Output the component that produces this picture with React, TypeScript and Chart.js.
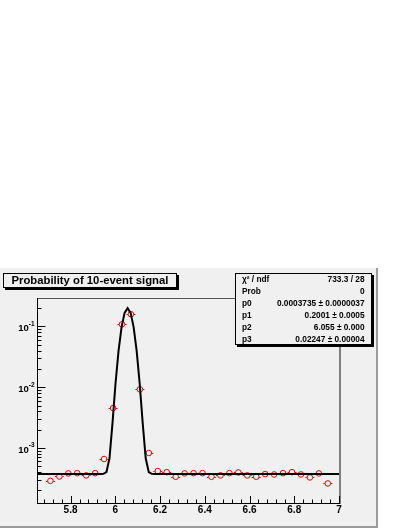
import React, { useEffect, useRef } from 'react';
import { Chart, registerables } from 'chart.js';

Chart.register(...registerables);

// ---------------- data ----------------
const binCenters = [
  5.71, 5.75, 5.79, 5.83, 5.87, 5.91, 5.95, 5.99, 6.03, 6.07, 6.11, 6.15, 6.19, 6.23, 6.27, 6.31,
  6.35, 6.39, 6.43, 6.47, 6.51, 6.55, 6.59, 6.63, 6.67, 6.71, 6.75, 6.79, 6.83, 6.87, 6.91, 6.95,
];
const binValues = [
  2.88e-4, 3.40e-4, 3.82e-4, 3.86e-4, 3.54e-4, 3.86e-4, 6.59e-4, 4.55e-3, 0.1086, 0.159, 9.25e-3, 8.28e-4,
  4.17e-4, 4.0e-4, 3.36e-4, 3.82e-4, 3.86e-4, 3.86e-4, 3.36e-4, 3.54e-4, 3.86e-4, 3.96e-4, 3.54e-4, 3.36e-4,
  3.72e-4, 3.67e-4, 3.86e-4, 4.0e-4, 3.67e-4, 3.28e-4, 3.82e-4, 2.61e-4,
];
const binHalfWidth = 0.02;

// fit: p0 + p1 * exp(-0.5 * ((x - p2) / p3)^2)
const fitParams = [0.0003735, 0.2001, 6.055, 0.02247];
const fitNpx = 100;

const xMin = 5.65;
const xMax = 7.0;
const yMin = 1.244e-4;
const yMax = 0.2944;

const xMajorTicks = [5.8, 6.0, 6.2, 6.4, 6.6, 6.8, 7.0];
const xMajorLabels = ['5.8', '6', '6.2', '6.4', '6.6', '6.8', '7'];
const xMinorStep = 0.04;
const yMajorExponents = [-1, -2, -3];
const yMajorLabels = ['-1', '-2', '-3'];

const titleText = 'Probability of 10-event signal';
const statsLabels = ['χ² / ndf', 'Prob', 'p0', 'p1', 'p2', 'p3'];
const statsValues = [
  '733.3 / 28',
  '0',
  '0.0003735 ± 0.0000037',
  '0.2001 ± 0.0005',
  '6.055 ± 0.000',
  '0.02247 ± 0.00004',
];

// ---------------- styling ----------------
const FONT = '"Liberation Sans", Arial, Helvetica, sans-serif';
const PANEL = '#f0f0f0';

function fitFn(x: number): number {
  const [p0, p1, p2, p3] = fitParams;
  const t = (x - p2) / p3;
  return p0 + p1 * Math.exp(-0.5 * t * t);
}

function drawBox(ctx: CanvasRenderingContext2D, x: number, y: number, w: number, h: number) {
  ctx.fillStyle = '#000';
  ctx.fillRect(x + 2, y + 2, w, h);
  ctx.fillStyle = PANEL;
  ctx.fillRect(x, y, w, h);
  ctx.strokeStyle = '#000';
  ctx.lineWidth = 1;
  ctx.strokeRect(x + 0.5, y + 0.5, w - 1, h - 1);
}

const rootPlugin = {
  id: 'rootStyle',
  beforeDraw(chart: any) {
    const ctx: CanvasRenderingContext2D = chart.ctx;
    ctx.save();
    ctx.fillStyle = '#ffffff';
    ctx.fillRect(0, 0, chart.width, chart.height);
    // pad
    ctx.fillStyle = PANEL;
    ctx.fillRect(0, 268, 378, 260);
    ctx.fillStyle = '#9a9a9a';
    ctx.fillRect(376, 268, 2, 260);
    ctx.fillRect(0, 526, 378, 2);
    ctx.restore();
  },
  beforeDatasetsDraw(chart: any) {
    const ctx: CanvasRenderingContext2D = chart.ctx;
    const xs = chart.scales.x;
    const ys = chart.scales.y;
    const r = 3;
    ctx.save();
    ctx.strokeStyle = '#ff0000';
    ctx.lineWidth = 1;
    binCenters.forEach((c, i) => {
      const px = xs.getPixelForValue(c);
      const py = Math.round(ys.getPixelForValue(binValues[i])) + 0.5;
      const l = xs.getPixelForValue(c - binHalfWidth);
      const rr = xs.getPixelForValue(c + binHalfWidth);
      ctx.beginPath();
      ctx.moveTo(l, py);
      ctx.lineTo(px - r, py);
      ctx.moveTo(px + r, py);
      ctx.lineTo(rr, py);
      ctx.stroke();
    });
    ctx.restore();
  },
  afterDraw(chart: any) {
    const ctx: CanvasRenderingContext2D = chart.ctx;
    const xs = chart.scales.x;
    const ys = chart.scales.y;
    const { left, right, top, bottom } = chart.chartArea;
    ctx.save();

    // frame border
    ctx.strokeStyle = '#555';
    ctx.lineWidth = 1;
    ctx.beginPath();
    ctx.moveTo(left, top + 0.5);
    ctx.lineTo(right + 2, top + 0.5);
    ctx.stroke();
    ctx.fillStyle = '#808080';
    ctx.fillRect(right, top, 2, bottom - top + 1);

    // axes lines
    ctx.strokeStyle = '#000';
    ctx.beginPath();
    ctx.moveTo(left + 0.5, top);
    ctx.lineTo(left + 0.5, bottom + 1);
    ctx.moveTo(left, bottom + 0.5);
    ctx.lineTo(right + 1, bottom + 0.5);
    ctx.stroke();

    // x ticks
    ctx.beginPath();
    for (let k = 0; ; k++) {
      const v = 5.68 + k * xMinorStep;
      if (v > xMax + 1e-9) break;
      const px = Math.round(xs.getPixelForValue(v)) + 0.5;
      ctx.moveTo(px, bottom);
      ctx.lineTo(px, bottom - 3.5);
    }
    xMajorTicks.forEach((v) => {
      const px = Math.round(xs.getPixelForValue(v)) + 0.5;
      ctx.moveTo(px, bottom);
      ctx.lineTo(px, bottom - 7);
    });
    // y ticks
    for (let e = -4; e <= 0; e++) {
      for (let m = 1; m <= 9; m++) {
        const v = m * Math.pow(10, e);
        if (v < yMin || v > yMax) continue;
        const py = Math.round(ys.getPixelForValue(v)) + 0.5;
        ctx.moveTo(left, py);
        ctx.lineTo(left + (m === 1 ? 8.5 : 4.5), py);
      }
    }
    ctx.stroke();

    // x labels
    ctx.fillStyle = '#000';
    ctx.font = `bold 10px ${FONT}`;
    ctx.textAlign = 'center';
    ctx.textBaseline = 'middle';
    xMajorTicks.forEach((v, i) => {
      ctx.fillText(xMajorLabels[i], xs.getPixelForValue(v), 510);
    });

    // y labels (10^exp)
    yMajorExponents.forEach((e, i) => {
      const py = ys.getPixelForValue(Math.pow(10, e));
      ctx.font = `bold 6.5px ${FONT}`;
      ctx.textAlign = 'right';
      ctx.textBaseline = 'middle';
      const sup = yMajorLabels[i];
      const supW = ctx.measureText(sup).width;
      ctx.fillText(sup, 34.5, py - 2.5);
      ctx.font = `bold 9.5px ${FONT}`;
      ctx.fillText('10', 34.5 - supW, py + 2);
    });

    // title box
    drawBox(ctx, 3, 273, 174, 15);
    ctx.fillStyle = '#000';
    ctx.font = `bold 11.3px ${FONT}`;
    ctx.textAlign = 'left';
    ctx.textBaseline = 'middle';
    ctx.fillText(titleText, 11.5, 281);

    // stats box
    drawBox(ctx, 235, 273, 137, 72);
    ctx.fillStyle = '#000';
    ctx.font = `bold 8.3px ${FONT}`;
    ctx.textBaseline = 'middle';
    statsLabels.forEach((lab, i) => {
      const y = 279.5 + i * 12;
      ctx.textAlign = 'left';
      ctx.fillText(lab, 242, y);
      ctx.textAlign = 'right';
      ctx.fillText(statsValues[i], 364.5, y);
    });

    ctx.restore();
  },
};

export default function App() {
  const ref = useRef<HTMLCanvasElement>(null);
  useEffect(() => {
    const canvas = ref.current;
    if (!canvas) return;
    const fitPoints: { x: number; y: number }[] = [];
    for (let i = 0; i <= fitNpx; i++) {
      const x = xMin + ((xMax - xMin) * i) / fitNpx;
      fitPoints.push({ x, y: fitFn(x) });
    }
    const chart = new Chart(canvas, {
      type: 'scatter',
      data: {
        datasets: [
          {
            type: 'line',
            data: fitPoints,
            borderColor: '#000',
            borderWidth: 2,
            pointRadius: 0,
            fill: false,
            tension: 0,
          } as any,
          {
            type: 'scatter',
            data: binCenters.map((x, i) => ({ x, y: binValues[i] })),
            pointStyle: 'circle',
            pointRadius: 2.8,
            borderColor: '#ff0000',
            backgroundColor: 'rgba(0,0,0,0)',
            borderWidth: 1,
          } as any,
        ],
      },
      options: {
        responsive: false,
        animation: false,
        devicePixelRatio: 1,
        events: [],
        layout: { padding: { left: 37, top: 298, right: 409 - 339, bottom: 529 - 503 } },
        plugins: { legend: { display: false }, tooltip: { enabled: false }, title: { display: false } },
        scales: {
          x: { type: 'linear', min: xMin, max: xMax, display: false },
          y: { type: 'logarithmic', min: yMin, max: yMax, display: false },
        },
      },
      plugins: [rootPlugin],
    });
    return () => chart.destroy();
  }, []);
  return (
    <div style={{ position: 'absolute', left: 0, top: 0, width: 409, height: 529 }}>
      <canvas ref={ref} width={409} height={529} style={{ display: 'block', width: 409, height: 529 }} />
    </div>
  );
}
